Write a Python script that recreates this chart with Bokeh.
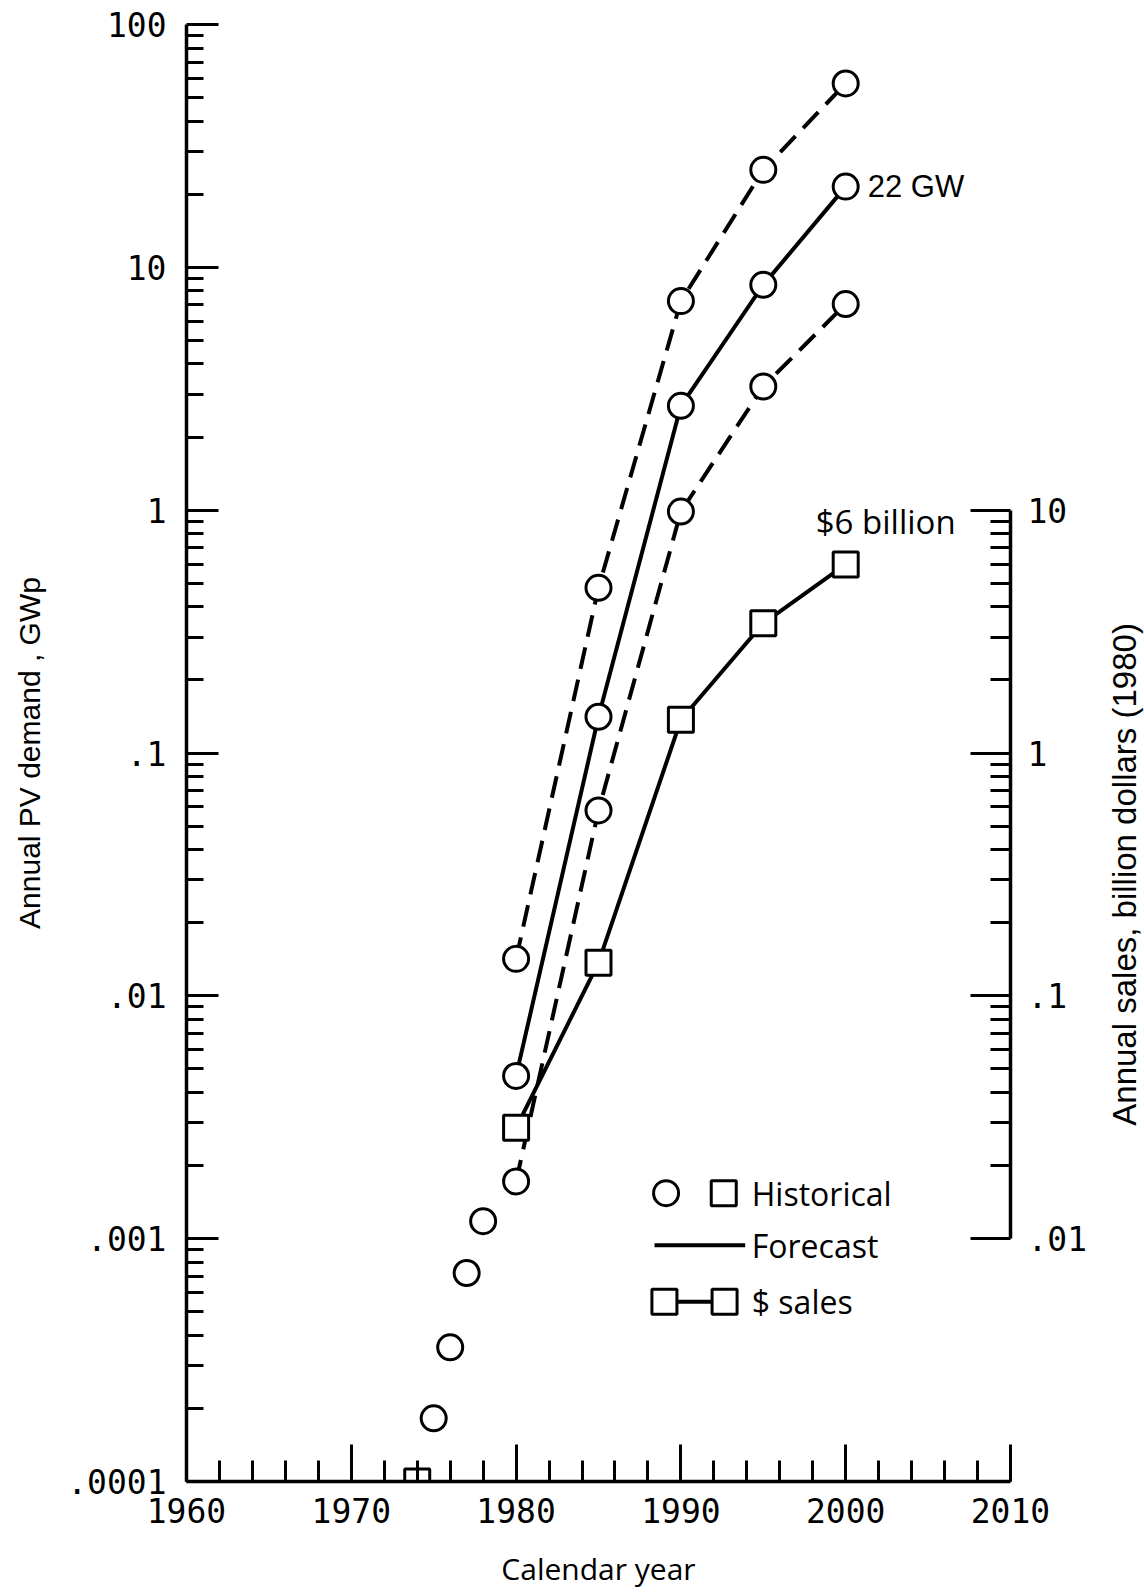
import math
from bokeh.plotting import figure
from bokeh.layouts import row
from bokeh.models import LogAxis, FixedTicker, Range1d
from bokeh.core.properties import value
from bokeh.embed import file_html
from bokeh.resources import INLINE

# ---------------- data ----------------
years = [1980, 1985, 1990, 1995, 2000]
high_gw = [0.0142, 0.479, 7.26, 25.2, 57.2]      # upper dashed scenario
mid_gw = [0.00468, 0.141, 2.69, 8.47, 21.5]      # forecast (solid)
low_gw = [0.00172, 0.058, 0.987, 3.23, 7.06]     # lower dashed scenario
sales_years = [1980, 1985, 1990, 1995, 2000]
sales_bn = [0.0286, 0.137, 1.37, 3.42, 5.98]     # billion dollars (right axis)
hist_years = [1975, 1976, 1977, 1978]
hist_gw = [0.000182, 0.000357, 0.000722, 0.00118]
hist_sales_years = [1974]
hist_sales_bn = [0.001]

x_ticks = [1960, 1970, 1980, 1990, 2000, 2010]
x_minor = list(range(1960, 2011, 2))
y_ticks = [1e-4, 1e-3, 1e-2, 1e-1, 1, 10, 100]
y_tick_labels = [".0001", ".001", ".01", ".1", "1", "10", "100"]
sales_ticks = [0.01, 0.1, 1, 10]
sales_tick_labels = [".01", ".1", "1", "10"]

label_gw = "22 GW"
label_sales = "$6 billion"
legend_labels = ["Historical", "Forecast", "$ sales"]
right_title = "Annual sales, billion dollars (1980)"

# legend layout (data coordinates of the legend block)
LEG_Y = [0.00154, 0.00094, 0.00055]
LEG_CIRCLE_X = 1989.1
LEG_SQUARE_X = 1992.6
LEG_LINE_X = [1988.4, 1993.9]
LEG_SALES_X = [1989.0, 1992.65]
LEG_TEXT_X = 1994.3

TICK_FONT = "DejaVu Sans Mono"
INK = "black"
FRAME_H = 1457
TOP, BOTTOM = 24, 112

p = figure(frame_width=824, frame_height=FRAME_H,
           x_range=Range1d(1960, 2010), y_range=Range1d(1e-4, 100),
           y_axis_type="log", output_backend="svg", toolbar_location=None,
           min_border_left=186, min_border_right=86,
           min_border_top=TOP, min_border_bottom=BOTTOM)
sales_range = Range1d(1e-3, 1e3)
p.extra_y_ranges = {"sales": sales_range}
p.grid.visible = False
p.outline_line_color = None
p.background_fill_color = "white"
p.border_fill_color = "white"

# ---- x axis ----
xa = p.xaxis[0]
xa.ticker = FixedTicker(ticks=x_ticks, minor_ticks=x_minor)
xa.major_label_overrides = {t: str(t) for t in x_ticks}
xa.axis_label = "Calendar year"
xa.axis_label_text_font = "Open Sans"
xa.axis_label_text_font_size = "30px"
xa.axis_label_text_font_style = "normal"
xa.axis_label_text_color = INK
xa.axis_label_standoff = 22
xa.major_label_text_font = TICK_FONT
xa.major_label_text_font_size = "33px"
xa.major_label_text_color = INK
xa.major_label_standoff = 16

# ---- left y axis ----
ya = p.yaxis[0]
ya.ticker = FixedTicker(ticks=y_ticks,
                        minor_ticks=[m * t for t in y_ticks[:-1] for m in range(2, 10)])
ya.major_label_overrides = dict(zip(y_ticks, y_tick_labels))
ya.axis_label = "Annual PV demand , GWp"
ya.axis_label_text_font = "Liberation Sans"
ya.axis_label_text_font_size = "30px"
ya.axis_label_text_font_style = "normal"
ya.axis_label_text_color = INK
ya.axis_label_standoff = 18
ya.major_label_text_font = TICK_FONT
ya.major_label_text_font_size = "33px"
ya.major_label_text_color = INK
ya.major_label_standoff = 20

# ---- right (sales) axis ----
ra = LogAxis(y_range_name="sales", bounds=(sales_ticks[0], sales_ticks[-1]),
             ticker=FixedTicker(ticks=sales_ticks,
                                minor_ticks=[m * t for t in sales_ticks[:-1] for m in range(2, 10)]))
ra.major_label_overrides = dict(zip(sales_ticks, sales_tick_labels))
ra.major_label_text_font = TICK_FONT
ra.major_label_text_font_size = "33px"
ra.major_label_text_color = INK
ra.major_label_standoff = 17
p.add_layout(ra, "right")

for ax, (mj, mn) in ((xa, (37, 21)), (ya, (32, 17)), (ra, (40, 20))):
    ax.major_tick_in = mj
    ax.major_tick_out = 0
    ax.minor_tick_in = mn
    ax.minor_tick_out = 0
    ax.axis_line_width = 3.5
    ax.major_tick_line_width = 3
    ax.minor_tick_line_width = 3
    ax.axis_line_color = INK
    ax.major_tick_line_color = INK
    ax.minor_tick_line_color = INK

# ---- series lines ----
LW = 4
DASH = "22 11"
p.line(years, high_gw, line_color=INK, line_width=LW, line_dash=DASH)
p.line(years, mid_gw, line_color=INK, line_width=LW)
p.line(years, low_gw, line_color=INK, line_width=LW, line_dash=DASH)
p.line(sales_years, sales_bn, y_range_name="sales", line_color=INK, line_width=LW)

# ---- markers ----
MS = 25
mk = dict(fill_color="white", line_color=INK, line_width=3, size=MS)
for ys in (high_gw, mid_gw, low_gw):
    p.scatter(years, ys, marker="circle", **mk)
p.scatter(hist_years, hist_gw, marker="circle", **mk)
p.scatter(sales_years, sales_bn, y_range_name="sales", marker="square", **mk)
p.scatter(hist_sales_years, hist_sales_bn, y_range_name="sales", marker="square", **mk)

# ---- annotations ----
p.text(x=[years[-1]], y=[mid_gw[-1]], text=[label_gw], x_offset=22,
       text_baseline="middle", text_align="left",
       text_font=value("Liberation Sans"), text_font_size="31px", text_color=INK)
p.text(x=[sales_years[-1]], y=[sales_bn[-1]], y_range_name="sales", text=[label_sales],
       x_offset=40, y_offset=-43, text_baseline="middle", text_align="center",
       text_font=value("Open Sans"), text_font_size="33px", text_color=INK)

# ---- legend block ----
p.scatter([LEG_CIRCLE_X], [LEG_Y[0]], marker="circle", **mk)
p.scatter([LEG_SQUARE_X], [LEG_Y[0]], marker="square", **mk)
p.line(LEG_LINE_X, [LEG_Y[1]] * 2, line_color=INK, line_width=LW)
p.line(LEG_SALES_X, [LEG_Y[2]] * 2, line_color=INK, line_width=LW)
p.scatter(LEG_SALES_X, [LEG_Y[2]] * 2, marker="square", **mk)
p.text(x=[LEG_TEXT_X] * 3, y=LEG_Y, text=legend_labels, text_baseline="middle",
       text_align="left", text_font=value("Open Sans"), text_font_size="32px",
       text_color=INK)

# ---- right-hand axis title (separate narrow strip sharing the sales scale) ----
p2 = figure(frame_width=48, frame_height=FRAME_H,
            x_range=Range1d(0, 1), y_range=sales_range, y_axis_type="log",
            x_axis_location=None, y_axis_location=None,
            output_backend="svg", toolbar_location=None,
            min_border_left=0, min_border_right=0,
            min_border_top=TOP, min_border_bottom=BOTTOM)
p2.grid.visible = False
p2.outline_line_color = None
p2.background_fill_color = "white"
p2.border_fill_color = "white"
title_y = math.sqrt(sales_ticks[0] * sales_ticks[-1])   # middle of the sales axis
p2.text(x=[0.58], y=[title_y], text=[right_title], angle=math.pi / 2,
        text_align="center", text_baseline="middle",
        text_font=value("Liberation Sans"), text_font_size="33px", text_color=INK)

layout = row(p, p2, spacing=0)
open("out.html", "w").write(file_html(layout, INLINE))
